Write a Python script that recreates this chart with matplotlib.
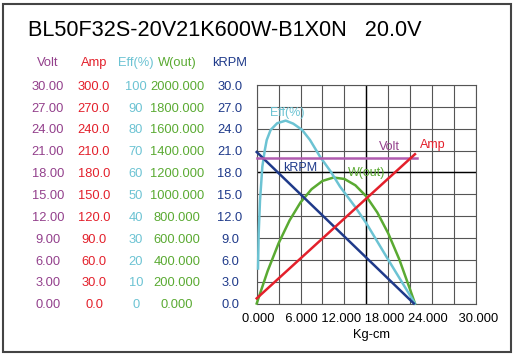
import numpy as np
import matplotlib
matplotlib.use("Agg")
import matplotlib.pyplot as plt
from matplotlib.transforms import blended_transform_factory
from matplotlib.patches import Rectangle

plt.rcParams['font.family'] = ['Liberation Sans', 'DejaVu Sans']

title = "BL50F32S-20V21K600W-B1X0N   20.0V"

# curves, torque in Kg-cm
torque_volt = [0.0, 21.9]
volt = [20.0, 20.0]

torque_amp = [0.0, 21.65]
amp = [7.0, 205.0]

torque_rpm = [0.0, 21.5]
krpm = [20.8, 0.0]

torque_w = [0.0, 1.5, 3.0, 4.5, 6.0, 7.5, 9.0, 10.5, 12.0, 13.5, 15.0,
            16.5, 18.0, 19.5, 21.0, 21.65]
wout = [0, 298, 552, 761, 926, 1046, 1122, 1153, 1140, 1082, 980,
        833, 641, 405, 125, 0]

torque_eff = [0.18, 0.27, 0.45, 0.77, 1.1, 1.37, 1.9, 2.8, 3.97, 5.0, 6.2,
              7.3, 8.7, 10.1, 11.4, 13.45, 15.0, 18.0, 21.65]
eff = [16, 32, 47, 62.6, 70, 74.8, 79.4, 82.5, 83.7, 82.3, 79.5,
       74.8, 67, 60.5, 53.5, 44.3, 36.7, 20, 0]

# left-hand scale columns
col_names = ["Volt", "Amp", "Eff(%)", "W(out)", "kRPM"]
col_full = [30, 300, 100, 2000, 30]
col_fmt = ["%.2f", "%.1f", "%d", "%.3f", "%.1f"]
col_x = [48, 94, 136, 177, 230]
text_col = ['#93408c', '#e3202b', '#6cc3d3', '#5aaa32', '#1f3a8a']
line_col = ['#b05cb0', '#e3202b', '#6cc3d3', '#5aaa32', '#1f3a8a']

xtick_labels = ["0.000", "6.000", "12.000", "18.000", "24.000", "30.000"]

fig = plt.figure(figsize=(5.15, 3.55), dpi=100)
W, H = 515.0, 355.0
ax = fig.add_axes([256.7 / W, 1 - 303.5 / H, (476 - 256.7) / W, (303.5 - 85) / H])
ax.set_xlim(0, 30)
ax.set_ylim(0, 1)
ax.set_xticks(np.arange(0, 31, 3))
ax.set_yticks(np.linspace(0, 1, 11))
ax.grid(color='#555555', lw=0.8)
ax.tick_params(length=0, labelbottom=False, labelleft=False)
for s in ax.spines.values():
    s.set_color('#555555')
    s.set_linewidth(0.8)
ax.axvline(15, color='black', lw=1.0)
ax.axhline(0.6, color='black', lw=1.0)

series = [(torque_volt, volt), (torque_amp, amp), (torque_eff, eff),
          (torque_w, wout), (torque_rpm, krpm)]
order = [3, 2, 4, 0, 1]
for i in order:
    tx, vals = series[i]
    a = ax.twinx()
    a.set_ylim(0, col_full[i])
    a.axis('off')
    a.plot(tx, vals, color=line_col[i], lw=1.8, clip_on=False)

# curve labels
ax.text(4.15, 0.872, "Eff(%)", color=text_col[2], fontsize=9, ha='center', va='center')
ax.text(18.1, 0.714, "Volt", color=text_col[0], fontsize=9, ha='center', va='center')
ax.text(24.1, 0.725, "Amp", color=text_col[1], fontsize=9, ha='center', va='center')
ax.text(5.9, 0.619, "kRPM", color=text_col[4], fontsize=9, ha='center', va='center')
ax.text(15.1, 0.598, "W(out)", color=text_col[3], fontsize=9, ha='center', va='center')

# scale columns on the left
tr = blended_transform_factory(fig.transFigure, ax.transAxes)
for j in range(5):
    fig.text(col_x[j] / W, 1 - 63 / H, col_names[j], color=text_col[j],
             fontsize=9.3, ha='center', va='center')
    for k in range(11):
        v = col_full[j] * k / 10
        fig.text(col_x[j] / W, k / 10 - 0.008, col_fmt[j] % v, color=text_col[j],
                 fontsize=9.3, ha='center', va='center', transform=tr)

fig.text(370 / W, 1 - 319 / H, " ".join(xtick_labels[:1]) + "   " + " ".join(xtick_labels[1:5])
         + "   " + xtick_labels[5], fontsize=9.3, ha='center', va='center')
fig.text(371 / W, 1 - 335 / H, "Kg-cm", fontsize=9.3, ha='center', va='center')

fig.text(28 / W, 1 - 36 / H, title, fontsize=15.6, ha='left', va='baseline')

fig.patches.append(Rectangle((3 / W, 3 / H), 508 / W, 348 / H, transform=fig.transFigure,
                             fill=False, edgecolor='#444444', lw=1.5))

fig.savefig("out.png", dpi=100)
